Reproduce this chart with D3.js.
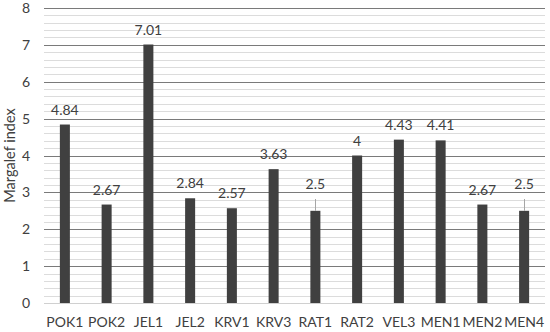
<!DOCTYPE html>
<html>
<head>
<meta charset="utf-8">
<script src="https://cdn.jsdelivr.net/npm/d3@7"></script>
<style>
  body { margin: 0; background: #fff; }
  text { font-family: Lato, "Open Sans", sans-serif; fill: #404040; }
</style>
</head>
<body>
<svg id="chart" width="550" height="332"></svg>
<script>
let sites = ["POK1", "POK2", "JEL1", "JEL2", "KRV1", "KRV3", "RAT1", "RAT2", "VEL3", "MEN1", "MEN2", "MEN4"];
let margalef = [4.84, 2.67, 7.01, 2.84, 2.57, 3.63, 2.5, 4, 4.43, 4.41, 2.67, 2.5];
// upper error (only visible on two bars)
let errUp = [0, 0, 0, 0, 0, 0, 0.32, 0, 0, 0, 0, 0.32];
let labels = ["4.84", "2.67", "7.01", "2.84", "2.57", "3.63", "2.5", "4", "4.43", "4.41", "2.67", "2.5"];
let yTicks = [0, 1, 2, 3, 4, 5, 6, 7, 8];

let svg = d3.select("#chart");
let plotLeft = 44, plotRight = 545, plotTop = 8, plotBottom = 303;

let x = d3.scaleBand().domain(sites).range([plotLeft, plotRight]).paddingInner(0.76).paddingOuter(0.38);
let y = d3.scaleLinear().domain([0, 8]).range([plotBottom, plotTop]);

let rows = sites.map((s, i) => ({ site: s, value: margalef[i], err: errUp[i], label: labels[i] }));

// minor gridlines every 0.2
let minor = d3.range(0, 8.01, 0.2).filter(v => Math.abs(v - Math.round(v)) > 0.01);
svg.selectAll(".minor").data(minor).enter()
    .append("line")
    .attr("x1", plotLeft).attr("x2", plotRight)
    .attr("y1", d => Math.round(y(d)) + 0.5).attr("y2", d => Math.round(y(d)) + 0.5)
    .attr("stroke", "#dcdcdc").attr("stroke-width", 1);

// major gridlines
svg.selectAll(".major").data(yTicks).enter()
    .append("line")
    .attr("x1", plotLeft).attr("x2", plotRight)
    .attr("y1", d => Math.round(y(d)) + 0.5).attr("y2", d => Math.round(y(d)) + 0.5)
    .attr("stroke", d => d === 0 ? "#d0d0d0" : "#7a7a7a").attr("stroke-width", 1);

// y tick labels
svg.selectAll(".ytick").data(yTicks).enter()
    .append("text")
    .attr("x", 30).attr("y", d => y(d) + 5)
    .attr("text-anchor", "end")
    .attr("font-size", 14)
    .text(d => d);

svg.append("text")
    .attr("transform", "translate(15," + ((plotTop + plotBottom) / 2) + ") rotate(-90)")
    .attr("text-anchor", "middle")
    .attr("font-size", 14.5)
    .text("Margalef index");

// bars
svg.selectAll(".bar").data(rows).enter()
    .append("rect")
    .attr("x", d => x(d.site))
    .attr("width", x.bandwidth())
    .attr("y", d => y(d.value))
    .attr("height", d => y(0) - y(d.value))
    .attr("fill", "#404040");

// error bars
svg.selectAll(".err").data(rows.filter(d => d.err > 0)).enter()
    .append("line")
    .attr("x1", d => Math.round(x(d.site) + x.bandwidth() / 2) + 0.5)
    .attr("x2", d => Math.round(x(d.site) + x.bandwidth() / 2) + 0.5)
    .attr("y1", d => y(d.value))
    .attr("y2", d => y(d.value + d.err))
    .attr("stroke", "#a6a6a6").attr("stroke-width", 1);

// value labels
svg.selectAll(".val").data(rows).enter()
    .append("text")
    .attr("x", d => x(d.site) + x.bandwidth() / 2)
    .attr("y", d => y(d.value + d.err) - 10)
    .attr("text-anchor", "middle")
    .attr("font-size", 14)
    .text(d => d.label);

// category labels
svg.selectAll(".cat").data(sites).enter()
    .append("text")
    .attr("x", d => x(d) + x.bandwidth() / 2)
    .attr("y", 327)
    .attr("text-anchor", "middle")
    .attr("font-size", 14)
    .text(d => d);
</script>
</body>
</html>
